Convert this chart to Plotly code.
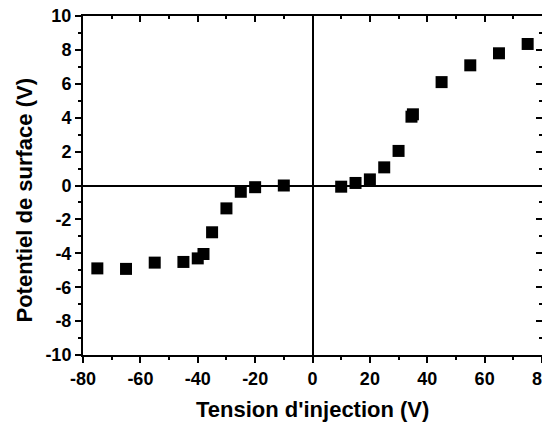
import plotly.graph_objects as go

# injection voltage (V) and measured surface potential (V)
tension = [-75, -65, -55, -45, -40, -38, -35, -30, -25, -20, -10,
           10, 15, 20, 25, 30, 34.5, 35, 45, 55, 65, 75]
potentiel = [-4.89, -4.92, -4.55, -4.51, -4.30, -4.04, -2.76, -1.35, -0.37, -0.10, 0.0,
             -0.07, 0.15, 0.36, 1.07, 2.04, 4.06, 4.20, 6.10, 7.09, 7.80, 8.35]

x_ticks = [-80, -60, -40, -20, 0, 20, 40, 60, 80]
y_ticks = [-10, -8, -6, -4, -2, 0, 2, 4, 6, 8, 10]

font_main = "Liberation Sans"

fig = go.Figure()
fig.add_trace(go.Scatter(
    x=tension,
    y=potentiel,
    mode="markers",
    marker=dict(symbol="square", size=12, color="black", line=dict(width=0)),
    showlegend=False,
    cliponaxis=False,
))
# same data, invisible, on the overlay axes so the top/right frame gets drawn
fig.add_trace(go.Scatter(
    x=tension, y=potentiel, xaxis="x2", yaxis="y2",
    mode="markers", marker=dict(opacity=0), hoverinfo="skip", showlegend=False,
))

axis_common = dict(
    showgrid=False,
    showline=True,
    linecolor="black",
    linewidth=2,
    tickcolor="black",
    tickwidth=1.5,
    automargin=False,
)

# page body has an 8px margin, so the figure is shrunk by that much
fig.update_layout(
    width=542,
    height=415,
    margin=dict(l=75, r=8, t=8, b=68),
    paper_bgcolor="white",
    plot_bgcolor="white",
    font=dict(family=font_main, color="black"),
    xaxis=dict(
        **axis_common,
        range=[-80, 80],
        tickvals=x_ticks,
        ticktext=[f"<b>{v}</b>" for v in x_ticks],
        ticks="outside",
        ticklen=6,
        minor=dict(ticks="outside", ticklen=3, dtick=10, tickcolor="black", tickwidth=1.5),
        tickfont=dict(size=18, family=font_main),
        ticklabeloverflow="allow",
        zeroline=True,
        zerolinecolor="black",
        zerolinewidth=1.5,
    ),
    yaxis=dict(
        **axis_common,
        range=[-10, 10],
        tickvals=y_ticks,
        ticktext=[f"<b>{v}</b>" for v in y_ticks],
        ticks="outside",
        ticklen=6,
        minor=dict(ticks="outside", ticklen=3, dtick=1, tickcolor="black", tickwidth=1.5),
        tickfont=dict(size=18, family=font_main),
        ticklabeloverflow="allow",
        zeroline=True,
        zerolinecolor="black",
        zerolinewidth=2,
    ),
    # mirrored axes on top/right with inward ticks
    xaxis2=dict(
        **axis_common,
        overlaying="x",
        anchor="y2",
        side="top",
        range=[-80, 80],
        tickvals=x_ticks,
        ticks="inside",
        ticklen=6,
        minor=dict(ticks="inside", ticklen=3, dtick=10, tickcolor="black", tickwidth=1.5),
        showticklabels=False,
        zeroline=False,
    ),
    yaxis2=dict(
        **axis_common,
        overlaying="y",
        anchor="x2",
        side="right",
        range=[-10, 10],
        tickvals=y_ticks,
        ticks="inside",
        ticklen=6,
        minor=dict(ticks="inside", ticklen=3, dtick=1, tickcolor="black", tickwidth=1.5),
        showticklabels=False,
        zeroline=False,
    ),
    annotations=[
        dict(
            text="<b>Tension d'injection (V)</b>",
            xref="paper", yref="paper", x=0.5, y=0,
            xanchor="center", yanchor="top", yshift=-40,
            showarrow=False, font=dict(size=22, family=font_main),
        ),
        dict(
            text="<b>Potentiel de surface (V)</b>",
            xref="paper", yref="paper", x=0, y=0.5,
            xanchor="center", yanchor="middle", xshift=-59, yshift=-15,
            textangle=-90,
            showarrow=False, font=dict(size=22, family=font_main),
        ),
    ],
)

fig.write_html("out.html")
